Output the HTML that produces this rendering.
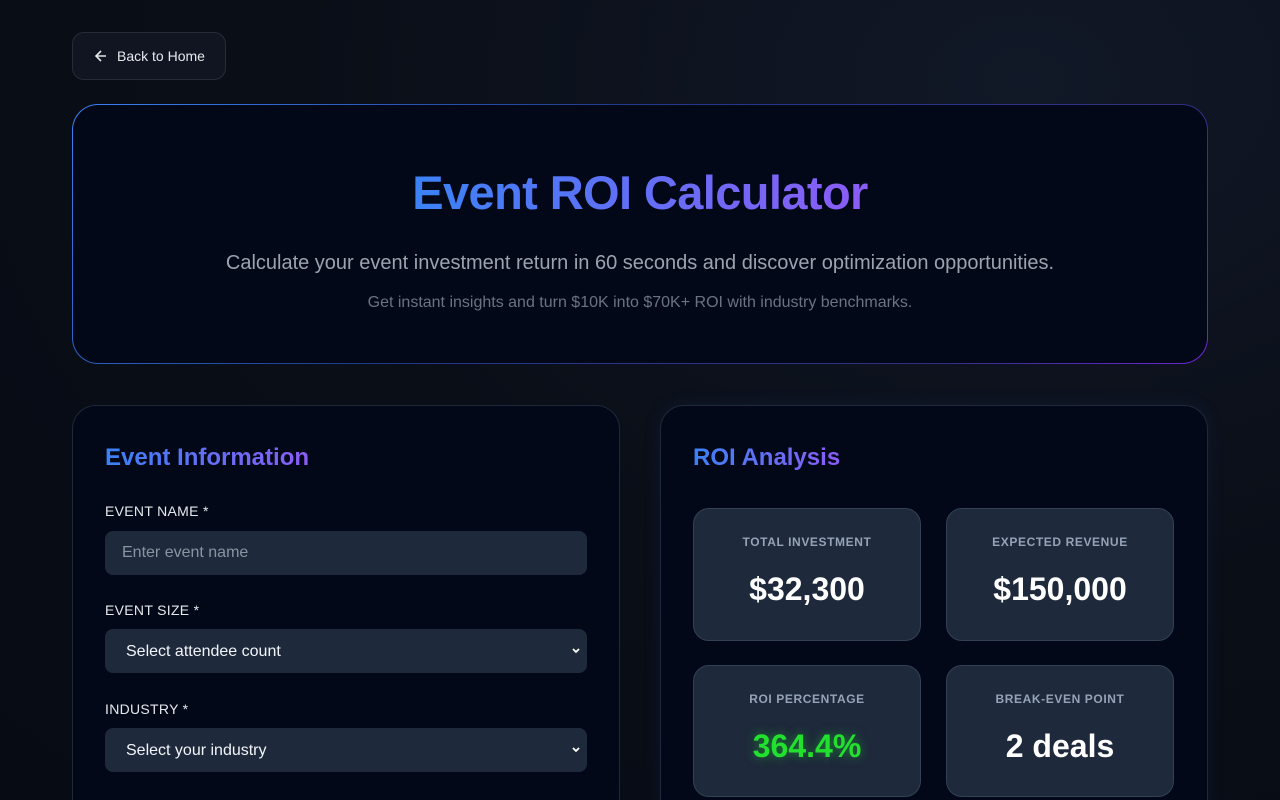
<!DOCTYPE html>
<html style="width:1280px;height:800px;overflow:hidden"><head><style>
*{box-sizing:border-box;margin:0;padding:0}
body{width:1280px;height:800px;overflow:hidden;background:radial-gradient(ellipse at 80% 10%,#111827 0%,#0a0e17 50%,#070b14 100%);font-family:"Liberation Sans",sans-serif;position:relative;color:#fff}
.abs{position:absolute}
.back{left:72px;top:32px;width:154px;height:48px;border:1px solid #262c38;border-radius:12px;background:#111522;color:#e5e7eb;font-size:14px;display:flex;align-items:center;padding-left:21px}
.back svg{margin-right:9px}
.hero{left:72px;top:104px;width:1136px;height:260px;border-radius:26px;padding:1px;background:linear-gradient(135deg,#3b82f6,#1e3a8a 40%,#312e81 80%,#6d28d9)}
.hero-in{width:100%;height:100%;border-radius:25px;background:#020817;text-align:center}
.grad{background:linear-gradient(90deg,#3b82f6,#8b5cf6);-webkit-background-clip:text;background-clip:text;color:transparent}
h1{font-size:47px;font-weight:bold;position:absolute;left:0;right:0;top:60px;letter-spacing:-0.6px}
.sub{position:absolute;left:0;right:0;top:147px;font-size:20px;color:#9ca3af}
.sub2{position:absolute;left:0;right:0;top:189px;font-size:16px;color:#6b7280}
.card{top:405px;height:420px;border-radius:24px;background:#020817;border:1px solid #1f2937}
h2{position:absolute;left:32px;top:38px;font-size:24px;font-weight:bold}
.lbl{position:absolute;left:32px;font-size:14px;color:#e5e7eb;letter-spacing:0.3px}
.inp{position:absolute;left:32px;width:482px;height:44px;border-radius:8px;background:#1e293b;font-size:16px;display:flex;align-items:center}
.chev{position:absolute;right:6px;top:17px}
.stat{position:absolute;width:228px;border-radius:16px;background:#1e293b;border:1px solid #334155;text-align:center}
.sl{position:absolute;left:0;right:0;top:26px;font-size:12px;font-weight:bold;color:#94a3b8;letter-spacing:0.6px}
.sv{position:absolute;left:0;right:0;top:62px;font-size:32px;font-weight:bold;color:#fff}
</style></head><body>
<div class="abs back"><svg width="14" height="14" viewBox="0 0 14 14"><path d="M12 7H2M7 2L2 7l5 5" stroke="#e5e7eb" stroke-width="1.6" fill="none"/></svg>Back to Home</div>
<div class="abs hero"><div class="hero-in" style="position:relative">
<h1><span class="grad">Event ROI Calculator</span></h1>
<div class="sub">Calculate your event investment return in 60 seconds and discover optimization opportunities.</div>
<div class="sub2">Get instant insights and turn $10K into $70K+ ROI with industry benchmarks.</div>
</div></div>

<div class="abs card" style="left:72px;width:548px">
<h2><span class="grad">Event Information</span></h2>
<div class="lbl" style="top:97px">EVENT NAME *</div>
<div class="inp" style="top:125px;padding-left:17px;color:#8b93a1">Enter event name</div>
<div class="lbl" style="top:196px">EVENT SIZE *</div>
<div class="inp" style="top:223px;padding-left:21px;color:#f1f5f9;padding-top:2px">Select attendee count<svg class="chev" width="10" height="10" viewBox="0 0 10 10"><path d="M2 3l3 3 3-3" stroke="#fff" stroke-width="1.8" fill="none"/></svg></div>
<div class="lbl" style="top:295px">INDUSTRY *</div>
<div class="inp" style="top:322px;padding-left:21px;color:#f1f5f9;padding-top:2px">Select your industry<svg class="chev" width="10" height="10" viewBox="0 0 10 10"><path d="M2 3l3 3 3-3" stroke="#fff" stroke-width="1.8" fill="none"/></svg></div>
</div>

<div class="abs card" style="left:660px;width:548px;border-color:#1e293b;box-shadow:0 0 20px rgba(59,130,246,0.08)">
<h2><span class="grad">ROI Analysis</span></h2>
<div class="stat" style="left:32px;top:102px;height:133px"><div class="sl">TOTAL INVESTMENT</div><div class="sv">$32,300</div></div>
<div class="stat" style="left:285px;top:102px;height:133px"><div class="sl">EXPECTED REVENUE</div><div class="sv">$150,000</div></div>
<div class="stat" style="left:32px;top:259px;height:132px"><div class="sl">ROI PERCENTAGE</div><div class="sv" style="color:#22e02e;text-shadow:0 0 10px rgba(34,224,46,0.5)">364.4%</div></div>
<div class="stat" style="left:285px;top:259px;height:132px"><div class="sl">BREAK-EVEN POINT</div><div class="sv">2 deals</div></div>
</div>
</body></html>
